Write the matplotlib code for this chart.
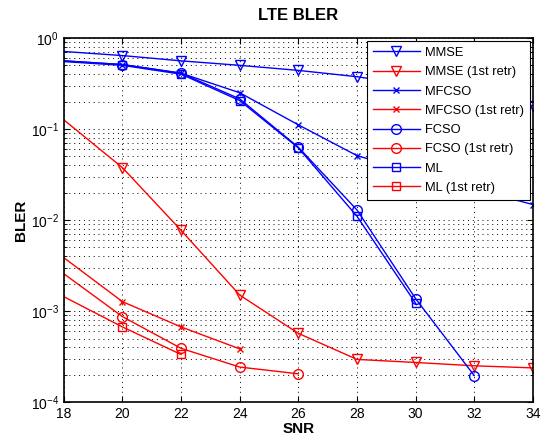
import numpy as np
import matplotlib
matplotlib.use('Agg')
import matplotlib.pyplot as plt
from matplotlib.ticker import LogLocator, NullFormatter

plt.rcParams['font.family'] = ['Liberation Sans', 'DejaVu Sans']

# SNR points and BLER curves
snr = [18, 20, 22, 24, 26, 28, 30, 32, 34]
mmse = [0.71, 0.64, 0.56, 0.50, 0.44, 0.375, 0.30, 0.24, 0.18]
mmse_r1 = [0.126, 0.0376, 0.0077, 0.0015, 0.00057, 0.000295, 0.000273, 0.000251, 0.000238]
mfcso = [0.56, 0.51, 0.41, 0.25, 0.111, 0.051, 0.033, 0.022, 0.0148]
mfcso_r1 = [0.00386, 0.00127, 0.00067, 0.000385]
fcso = [0.56, 0.51, 0.41, 0.214, 0.063, 0.0129, 0.00137, 0.000196]
fcso_r1 = [0.00257, 0.00087, 0.00039, 0.000243, 0.000205]
ml = [0.55, 0.50, 0.40, 0.205, 0.062, 0.011, 0.00122]
ml_r1 = [0.00144, 0.00067, 0.000334]

fig = plt.figure(figsize=(5.41, 4.41), dpi=100)
ax = fig.add_axes([0.118, 0.088, 0.867, 0.826])

lw = 1.0
# no marker on the first (x=18) point, it sits on the left edge
me = slice(1, None)
ax.semilogy(snr, mmse, 'b-v', lw=lw, ms=7, mfc='none', markevery=me, label='MMSE')
ax.semilogy(snr, mmse_r1, 'r-v', lw=lw, ms=7, mfc='none', markevery=me, label='MMSE (1st retr)')
ax.semilogy(snr, mfcso, 'b-x', lw=lw, ms=5, markevery=me, label='MFCSO')
ax.semilogy(snr[:len(mfcso_r1)], mfcso_r1, 'r-x', lw=lw, ms=5, markevery=me, label='MFCSO (1st retr)')
ax.semilogy(snr[:len(fcso)], fcso, 'b-o', lw=lw, ms=7, mfc='none', markevery=me, label='FCSO')
ax.semilogy(snr[:len(fcso_r1)], fcso_r1, 'r-o', lw=lw, ms=7, mfc='none', markevery=me, label='FCSO (1st retr)')
ax.semilogy(snr[:len(ml)], ml, 'b-s', lw=lw, ms=6, mfc='none', markevery=me, label='ML')
ax.semilogy(snr[:len(ml_r1)], ml_r1, 'r-s', lw=lw, ms=6, mfc='none', markevery=me, label='ML (1st retr)')

ax.set_xlim(18, 34)
ax.set_ylim(1e-4, 1)
ax.set_xticks(snr)
ax.yaxis.set_major_locator(LogLocator(base=10, numticks=10))
ax.yaxis.set_minor_locator(LogLocator(base=10, subs=np.arange(2, 10), numticks=10))
ax.yaxis.set_minor_formatter(NullFormatter())

# sparse dotted grid: major x, major and minor y
gkw = dict(color='k', lw=0.7, dashes=(1, 4))
ax.grid(True, which='major', axis='both', **gkw)
ax.grid(True, which='minor', axis='y', **gkw)

ax.tick_params(which='both', direction='in', top=True, right=True, labelsize=10)
ax.tick_params(which='major', length=4)
ax.tick_params(which='minor', length=2)
for s in ax.spines.values():
    s.set_linewidth(1.2)

ax.set_title('LTE BLER', fontsize=12, fontweight='bold', pad=13)
ax.set_xlabel('SNR', fontsize=11, fontweight='bold', labelpad=1)
ax.set_ylabel('BLER', fontsize=11, fontweight='bold', labelpad=2)

leg = ax.legend(loc='upper right', fontsize=9.3, fancybox=False, framealpha=1,
                edgecolor='k', borderaxespad=0.2, handlelength=3.6,
                handletextpad=0.4, labelspacing=0.56, borderpad=0.5)
leg.get_frame().set_linewidth(0.8)

fig.savefig('out.png', dpi=100)
